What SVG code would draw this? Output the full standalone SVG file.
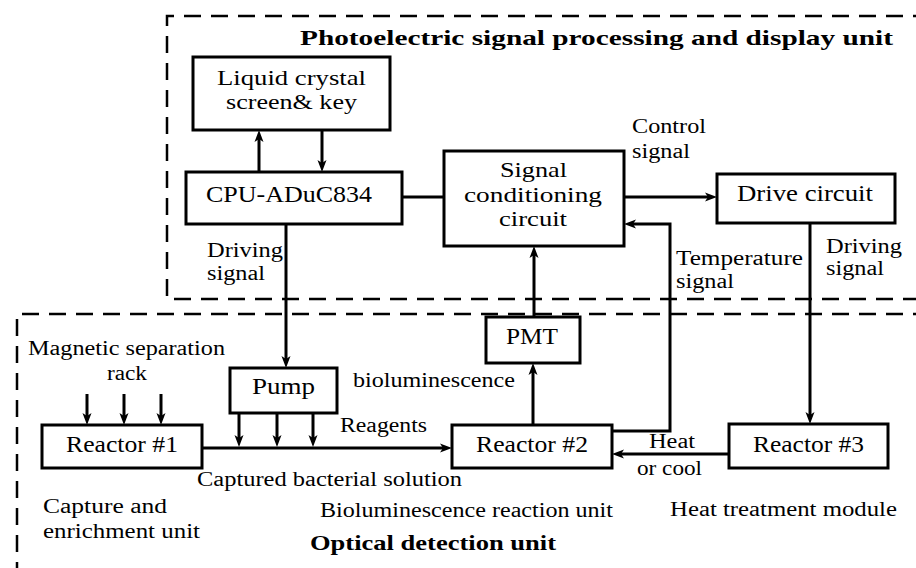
<svg xmlns="http://www.w3.org/2000/svg" width="916" height="568" viewBox="0 0 916 568">
<style>
text{font-family:"Liberation Serif","Times New Roman",serif;fill:#000}
.bt{font-size:24px}
.bm{font-size:21px}
.lb{font-size:20px}
.ti{font-size:22px;font-weight:bold}
.box{fill:#fff;stroke:#000;stroke-width:3}
.dash{fill:none;stroke:#000;stroke-width:2.5;stroke-dasharray:17 10}
.cn{fill:none;stroke:#000;stroke-width:3}
.ar{marker-end:url(#arr)}
</style>
<defs>
<marker id="arr" viewBox="0 0 12 10" refX="6" refY="5" markerWidth="12" markerHeight="10" markerUnits="userSpaceOnUse" orient="auto">
<path d="M0,0.5 L12,5 L0,9.5 L3,5 z" fill="#000"/>
</marker>
</defs>
<rect width="916" height="568" fill="#fff"/>

<g id="units">
<path class="dash" d="M930,16 H167 V299 H930"/>
<path class="dash" d="M930,314 H17 V580"/>
<text class="ti" x="300" y="45" textLength="593" lengthAdjust="spacingAndGlyphs">Photoelectric signal processing and display unit</text>
<text class="ti" x="310" y="550" textLength="246" lengthAdjust="spacingAndGlyphs">Optical detection unit</text>
<text class="lb" x="43" y="513" textLength="124" lengthAdjust="spacingAndGlyphs">Capture and</text>
<text class="lb" x="43" y="538" textLength="157" lengthAdjust="spacingAndGlyphs">enrichment unit</text>
<text class="lb" x="320" y="517" textLength="293" lengthAdjust="spacingAndGlyphs">Bioluminescence reaction unit</text>
<text class="lb" x="670" y="516" textLength="227" lengthAdjust="spacingAndGlyphs">Heat treatment module</text>
</g>

<g id="connectors">
<path class="cn ar" d="M259,172 V136"/>
<path class="cn ar" d="M322,130 V166"/>
<path class="cn" d="M402,197 H444"/>
<path class="cn ar" d="M624,197 H711"/>
<path class="cn ar" d="M286,224 V362"/>
<path class="cn ar" d="M534,317 V252"/>
<path class="cn ar" d="M533,425 V369"/>
<path class="cn ar" d="M612,431 H670 V224 H630"/>
<path class="cn ar" d="M810,223 V418"/>
<path class="cn ar" d="M729,454 H618"/>
<path class="cn ar" d="M202,448 H446"/>
<path class="cn ar" d="M239,413 V441"/>
<path class="cn ar" d="M277,413 V441"/>
<path class="cn ar" d="M313,413 V441"/>
<path class="cn ar" d="M87,394 V419"/>
<path class="cn ar" d="M124,394 V419"/>
<path class="cn ar" d="M161,394 V419"/>
</g>

<g id="labels">
<text class="lb" x="632" y="133" textLength="74" lengthAdjust="spacingAndGlyphs">Control</text>
<text class="lb" x="632" y="158" textLength="58" lengthAdjust="spacingAndGlyphs">signal</text>
<text class="lb" x="207" y="257" textLength="76" lengthAdjust="spacingAndGlyphs">Driving</text>
<text class="lb" x="207" y="280" textLength="58" lengthAdjust="spacingAndGlyphs">signal</text>
<text class="lb" x="676" y="265" textLength="127" lengthAdjust="spacingAndGlyphs">Temperature</text>
<text class="lb" x="676" y="288" textLength="58" lengthAdjust="spacingAndGlyphs">signal</text>
<text class="lb" x="826" y="253" textLength="76" lengthAdjust="spacingAndGlyphs">Driving</text>
<text class="lb" x="826" y="275" textLength="58" lengthAdjust="spacingAndGlyphs">signal</text>
<text class="lb" x="28" y="355" textLength="197" lengthAdjust="spacingAndGlyphs">Magnetic separation</text>
<text class="lb" x="107" y="380" textLength="40" lengthAdjust="spacingAndGlyphs">rack</text>
<text class="lb" x="353" y="387" textLength="162" lengthAdjust="spacingAndGlyphs">bioluminescence</text>
<text class="lb" x="340" y="432" textLength="87" lengthAdjust="spacingAndGlyphs">Reagents</text>
<text class="lb" x="197" y="486" textLength="265" lengthAdjust="spacingAndGlyphs">Captured bacterial solution</text>
<text class="lb" x="649" y="448" textLength="46" lengthAdjust="spacingAndGlyphs">Heat</text>
<text class="lb" x="637" y="475" textLength="65" lengthAdjust="spacingAndGlyphs">or cool</text>
</g>

<g id="lcd">
<rect class="box" x="193" y="57" width="197" height="73"/>
<text class="bm" x="217" y="85" textLength="149" lengthAdjust="spacingAndGlyphs">Liquid crystal</text>
<text class="bm" x="226" y="109" textLength="131" lengthAdjust="spacingAndGlyphs">screen&amp; key</text>
</g>
<g id="cpu">
<rect class="box" x="186" y="172" width="216" height="52"/>
<text class="bt" x="206" y="202" textLength="166" lengthAdjust="spacingAndGlyphs">CPU-ADuC834</text>
</g>
<g id="signal">
<rect class="box" x="444" y="151" width="180" height="95"/>
<text class="bm" x="500" y="177" textLength="67" lengthAdjust="spacingAndGlyphs">Signal</text>
<text class="bm" x="464" y="202" textLength="138" lengthAdjust="spacingAndGlyphs">conditioning</text>
<text class="bm" x="499" y="226" textLength="68" lengthAdjust="spacingAndGlyphs">circuit</text>
</g>
<g id="drive">
<rect class="box" x="717" y="174" width="178" height="49"/>
<text class="bt" x="737" y="201" textLength="136" lengthAdjust="spacingAndGlyphs">Drive circuit</text>
</g>
<g id="pmt">
<rect class="box" x="486" y="317" width="94" height="46"/>
<text class="bt" x="506" y="344" textLength="52" lengthAdjust="spacingAndGlyphs">PMT</text>
</g>
<g id="pump">
<rect class="box" x="230" y="368" width="107" height="45"/>
<text class="bt" x="252" y="394" textLength="63" lengthAdjust="spacingAndGlyphs">Pump</text>
</g>
<g id="reactor1">
<rect class="box" x="42" y="425" width="160" height="43"/>
<text class="bt" x="66" y="452" textLength="112" lengthAdjust="spacingAndGlyphs">Reactor #1</text>
</g>
<g id="reactor2">
<rect class="box" x="452" y="425" width="160" height="43"/>
<text class="bt" x="476" y="452" textLength="112" lengthAdjust="spacingAndGlyphs">Reactor #2</text>
</g>
<g id="reactor3">
<rect class="box" x="729" y="424" width="159" height="44"/>
<text class="bt" x="753" y="452" textLength="111" lengthAdjust="spacingAndGlyphs">Reactor #3</text>
</g>
</svg>
